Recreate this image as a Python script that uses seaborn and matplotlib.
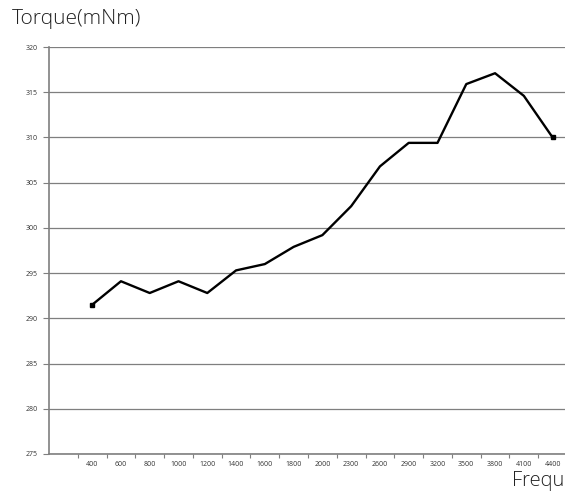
import pandas as pd
import seaborn as sns
import matplotlib.pyplot as plt
from matplotlib.ticker import FixedLocator

freq = ['400', '600', '800', '1000', '1200', '1400', '1600', '1800', '2000',
        '2300', '2600', '2900', '3200', '3500', '3800', '4100', '4400']
torque = [291.5, 294.1, 292.8, 294.1, 292.8, 295.3, 296.0, 297.9, 299.2,
          302.4, 306.8, 309.4, 309.4, 315.9, 317.1, 314.6, 310.0]

df = pd.DataFrame({'Frequency': freq, 'Torque': torque})

sns.set_theme(style='white')
plt.rcParams['font.family'] = ['Open Sans', 'DejaVu Sans']

fig = plt.figure(figsize=(5.65, 4.92), dpi=100)
ax = fig.add_axes([49 / 565, 1 - 454 / 492, 518 / 565, 407 / 492])

sns.lineplot(data=df, x='Frequency', y='Torque', color='black', linewidth=1.7, ax=ax, sort=False)
# square markers only on the two end points
ends = df.iloc[[0, -1]]
ax.plot(ends['Frequency'], ends['Torque'], 's', color='black', markersize=2.5)

ax.set_ylim(275, 320)
ax.set_xlim(-1.5, len(freq) - 0.5)
ax.set_yticks(range(275, 321, 5))
ax.grid(axis='y', color='#7f7f7f', linewidth=0.9)
ax.grid(axis='x', visible=False)

ax.set_xticks(range(len(freq)))
ax.set_xticklabels(freq)
ax.xaxis.set_minor_locator(FixedLocator([i - 0.5 for i in range(len(freq) + 1)]))
ax.tick_params(axis='x', which='major', length=0, labelsize=5, pad=5, labelcolor='#333333')
ax.tick_params(axis='x', which='minor', length=3, width=0.8, color='#7f7f7f', direction='out', bottom=True)
ax.tick_params(axis='y', length=4, width=0.8, color='#7f7f7f', direction='out', left=True,
               labelsize=5, pad=4, labelcolor='#333333')

for s in ['top', 'right']:
    ax.spines[s].set_visible(False)
for s in ['left', 'bottom']:
    ax.spines[s].set_color('#7f7f7f')
    ax.spines[s].set_linewidth(1.2)

ax.set_xlabel('')
ax.set_ylabel('')

fig.text(12 / 565, 1 - 24 / 492, 'Torque(mNm)', fontsize=15, fontweight='light', color='#222222')
# the axis title is clipped by the picture edge in the original, only "Frequ" shows
fig.text(564 / 565, 1 - 486 / 492, 'Frequ', fontsize=14.5, fontweight='light', color='#222222', ha='right')

fig.savefig('out.png', dpi=100)
